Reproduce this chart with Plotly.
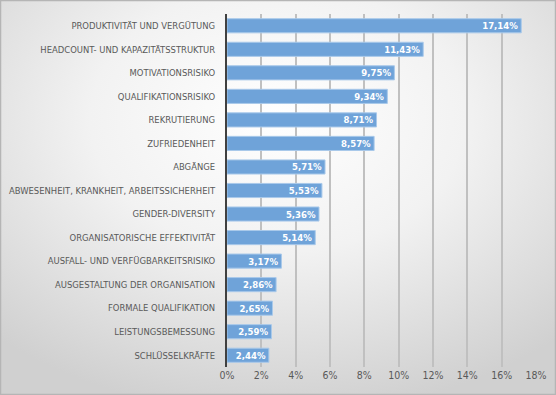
import base64
import plotly.graph_objects as go

categories = [
    "PRODUKTIVITÄT UND VERGÜTUNG",
    "HEADCOUNT- UND KAPAZITÄTSSTRUKTUR",
    "MOTIVATIONSRISIKO",
    "QUALIFIKATIONSRISIKO",
    "REKRUTIERUNG",
    "ZUFRIEDENHEIT",
    "ABGÄNGE",
    "ABWESENHEIT, KRANKHEIT, ARBEITSSICHERHEIT",
    "GENDER-DIVERSITY",
    "ORGANISATORISCHE EFFEKTIVITÄT",
    "AUSFALL- UND VERFÜGBARKEITSRISIKO",
    "AUSGESTALTUNG DER ORGANISATION",
    "FORMALE QUALIFIKATION",
    "LEISTUNGSBEMESSUNG",
    "SCHLÜSSELKRÄFTE",
]
values = [17.14, 11.43, 9.75, 9.34, 8.71, 8.57, 5.71, 5.53, 5.36, 5.14,
          3.17, 2.86, 2.65, 2.59, 2.44]
tick_vals = [0, 2, 4, 6, 8, 10, 12, 14, 16, 18]
tick_labels = ["0%", "2%", "4%", "6%", "8%", "10%", "12%", "14%", "16%", "18%"]

labels = [f"{v:.2f}".replace(".", ",") + "%" for v in values]

W, H = 556, 395
ML, MR, MT, MB = 227, 20, 14, 28
pw, ph = W - ML - MR, H - MT - MB
FONT = "DejaVu Sans Condensed, sans-serif"

svg = f"""<svg xmlns='http://www.w3.org/2000/svg' width='{W}' height='{H}' viewBox='0 0 {W} {H}' preserveAspectRatio='none'>
<defs><radialGradient id='g' cx='0.5' cy='0.3' r='0.75'>
<stop offset='0' stop-color='#ffffff'/>
<stop offset='0.45' stop-color='#f2f2f2'/>
<stop offset='1' stop-color='#d0d0d0'/>
</radialGradient></defs>
<rect x='0' y='0' width='{W}' height='{H}' fill='url(#g)'/>
<rect x='0.5' y='0.5' width='{W-1}' height='{H-1}' fill='none' stroke='#b5b5b5' stroke-width='1.5'/>
</svg>"""
src = "data:image/svg+xml;base64," + base64.b64encode(svg.encode()).decode()

fig = go.Figure(go.Bar(
    x=values, y=categories, orientation="h",
    marker=dict(color="#6fa3d9", line=dict(color="#a9c9ea", width=1)),
    text=labels, textposition="inside", insidetextanchor="end",
    textfont=dict(color="white", size=9.5, family=FONT, weight="bold"),
    cliponaxis=False, width=0.6,
))

fig.update_layout(
    width=W, height=H,
    margin=dict(l=ML, r=MR, t=MT, b=MB, autoexpand=False),
    paper_bgcolor="#e6e6e6", plot_bgcolor="rgba(0,0,0,0)",
    showlegend=False,
    uniformtext=dict(minsize=9.5, mode="show"),
    font=dict(family=FONT, color="#595959", size=9.4),
    images=[dict(source=src, xref="paper", yref="paper",
                 x=-ML / pw, y=1 + MT / ph, sizex=W / pw, sizey=H / ph,
                 xanchor="left", yanchor="top", sizing="stretch", layer="below")],
    xaxis=dict(range=[0, 18], tickvals=tick_vals, ticktext=tick_labels,
               showgrid=True, gridcolor="#c0c0c0", gridwidth=1.5,
               zeroline=False, showline=False, ticks="", automargin=False,
               tickfont=dict(size=10.5, color="#595959")),
    yaxis=dict(autorange="reversed", showgrid=False, ticks="", automargin=False,
               showline=True, linecolor="#404040", linewidth=2,
               ticklabelstandoff=8,
               tickfont=dict(size=9.4, color="#595959")),
)

fig.write_html("out.html", config={"displayModeBar": False},
               post_script="document.body.style.margin='0';document.body.style.overflow='hidden';")
